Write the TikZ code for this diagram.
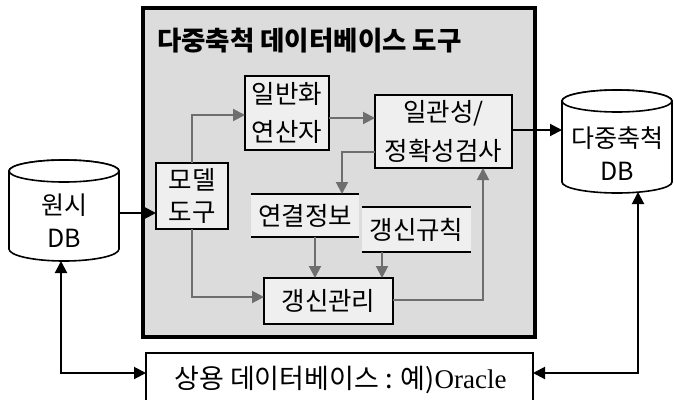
\documentclass[tikz,border=0pt]{standalone}
\usepackage{fontspec}
\setmainfont{Noto Sans CJK KR}
\newfontfamily\latinserif{Liberation Serif}
\usetikzlibrary{arrows.meta}
\definecolor{panel}{HTML}{DCDCDC}
\definecolor{boxfill}{HTML}{EFEFEF}
\definecolor{flow}{HTML}{6E6E6E}
\tikzset{fat/.tip={Triangle[length=12pt,width=12pt]}}

\begin{document}
\begin{tikzpicture}[x=1pt,y=-1pt,
  every node/.style={inner sep=0pt, outer sep=0pt},
  blk/.style={draw=black, line width=1.8pt, fill=boxfill, align=center,
    font=\fontsize{25.5}{38.5}\selectfont},
  band/.style={fill=boxfill, align=center, font=\fontsize{25.5}{30}\selectfont},
  dbtext/.style={align=center, font=\fontsize{25}{33}\selectfont},
  garrow/.style={draw=flow, line width=2pt, -{fat}},
  karrow/.style={draw=black, line width=2pt, -{fat}},
  kboth/.style={draw=black, line width=2pt, {fat}-{fat}},
  drum/.style={draw=black, line width=1.6pt, fill=white},
]
\useasboundingbox (0,0) rectangle (674,399);
\fill[white] (0,0) rectangle (674,399);

% tool panel
\node[draw=black, line width=3.5pt, fill=panel, minimum width=392, minimum height=329]
  (panel) at (339,172.5) {};
\node[anchor=west, font=\fontsize{26.5}{30}\selectfont\bfseries] (title) at (157,40.5)
  {다중축척 데이터베이스 도구};

% components
\node[blk, minimum width=84, minimum height=74] (gen) at (287,113) {일반화\\연산자};
\node[blk, minimum width=137, minimum height=73] (check) at (443.5,131.5) {일관성/\\정확성검사};
\node[blk, minimum width=72, minimum height=66, font=\fontsize{25.5}{31.5}\selectfont] (model) at (192,196) {모델\\도구};
\node[band, minimum width=108, minimum height=43] (link) at (305,215.5) {연결정보};
\node[band, minimum width=109, minimum height=45] (rule) at (416.5,229.5) {갱신규칙};
\node[blk, minimum width=129, minimum height=46] (update) at (328.5,301) {갱신관리};
\draw[line width=1.8pt] (link.north west) -- (link.north east) (link.south west) -- (link.south east);
\draw[line width=1.8pt] (rule.north west) -- (rule.north east) (rule.south west) -- (rule.south east);

% source database
\draw[drum] (9,171) -- (9,249) arc[start angle=180, end angle=360, x radius=55pt, y radius=12pt]
  -- (119,171) arc[start angle=0, end angle=180, x radius=55pt, y radius=11pt] -- cycle;
\draw[drum] (64,171) ellipse[x radius=55pt, y radius=11pt];
\node[dbtext] (rawdb) at (64,221) {원시\\DB};
\coordinate (rawout) at (119,213);
\coordinate (rawbot) at (61,261);

% multi-scale database
\draw[drum] (562,101) -- (562,182) arc[start angle=180, end angle=360, x radius=55pt, y radius=11pt]
  -- (672,101) arc[start angle=0, end angle=180, x radius=55pt, y radius=11pt] -- cycle;
\draw[drum] (617,101) ellipse[x radius=55pt, y radius=11pt];
\node[dbtext] (msdb) at (617,154) {다중축척\\DB};
\coordinate (msin) at (562,130);
\coordinate (msbot) at (638,192);

% commercial DBMS
\fill[white] (146,353) rectangle (533,410);
\draw[line width=1.8pt] (146,410) -- (146,353) -- (533,353) -- (533,410);
\node[font=\fontsize{27}{30}\selectfont] (comm) at (340.5,380) {상용 데이터베이스 : 예){\latinserif Oracle}};
\coordinate (commL) at (146,373);
\coordinate (commR) at (533,373);

% internal flows
\draw[garrow] (model.north) |- ([yshift=-2pt]gen.west);
\draw[garrow] (model.south) |- ([yshift=4pt]update.west);
\draw[garrow] ([yshift=-5pt]gen.east) -- ([yshift=-5pt]gen.east -| check.west);
\draw[garrow] ([yshift=-20.5pt]check.west) -| ([xshift=37pt]link.north);
\draw[garrow] ([xshift=10pt]link.south) -- ([xshift=10pt]link.south |- update.north);
\draw[garrow] ([xshift=-34.5pt]rule.south) -- ([xshift=-34.5pt]rule.south |- update.north);
\draw[garrow] ([yshift=1pt]update.east) -| ([xshift=39.5pt]check.south);

% external flows
\draw[karrow] (rawout) -- (rawout -| model.west);
\draw[karrow] (msin -| check.east) -- (msin);
\draw[kboth] (rawbot) |- (commL);
\draw[kboth] (msbot) |- (commR);
\end{tikzpicture}
\end{document}
